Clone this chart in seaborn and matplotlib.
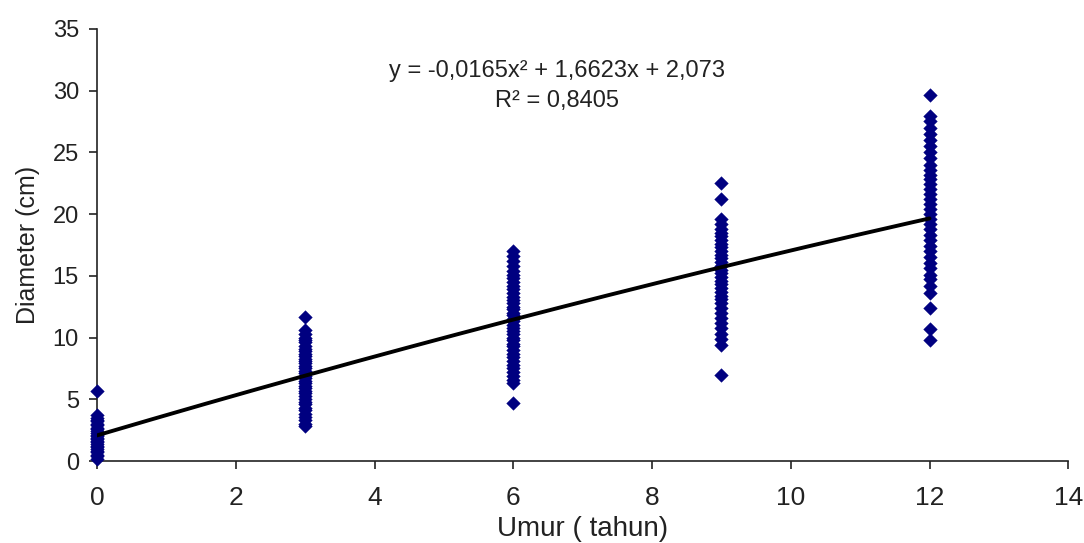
import numpy as np
import pandas as pd
import matplotlib
matplotlib.use("Agg")
import matplotlib.pyplot as plt
import seaborn as sns

# ---- data ----
age_0 = [0.2, 0.4, 0.5, 0.7, 0.8, 1.0, 1.1, 1.2, 1.4, 1.5, 1.6, 1.8, 1.9, 2.0,
         2.1, 2.3, 2.4, 2.6, 2.7, 2.9, 3.0, 3.2, 3.3, 3.5, 3.7, 5.7]
age_3 = [2.8, 3.0, 3.3, 3.6, 3.8, 4.1, 4.3, 4.6, 4.8, 5.0, 5.3, 5.5, 5.7, 5.9,
         6.1, 6.3, 6.5, 6.7, 6.9, 7.1, 7.3, 7.5, 7.7, 7.9, 8.1, 8.3, 8.5, 8.7,
         8.9, 9.1, 9.3, 9.6, 9.8, 10.0, 10.3, 10.6, 11.7]
age_6 = [4.7, 6.3, 6.6, 6.9, 7.2, 7.5, 7.8, 8.1, 8.4, 8.7, 9.0, 9.3, 9.5, 9.8,
         10.0, 10.3, 10.5, 10.8, 11.0, 11.3, 11.5, 11.8, 12.0, 12.3, 12.5,
         12.8, 13.0, 13.3, 13.6, 13.9, 14.2, 14.5, 14.8, 15.1, 15.4, 15.8,
         16.2, 16.6, 17.0]
age_9 = [7.0, 9.4, 9.9, 10.3, 10.8, 11.2, 11.6, 12.0, 12.4, 12.8, 13.1, 13.4,
         13.7, 14.0, 14.3, 14.6, 14.9, 15.2, 15.5, 15.8, 16.1, 16.4, 16.7,
         17.0, 17.3, 17.6, 17.9, 18.2, 18.5, 18.8, 19.2, 19.6, 21.2, 22.5]
age_12 = [9.8, 10.7, 12.4, 13.6, 14.2, 14.7, 15.1, 15.6, 16.0, 16.5, 17.0,
          17.4, 17.9, 18.3, 18.8, 19.2, 19.6, 20.0, 20.4, 20.8, 21.2, 21.6,
          22.0, 22.4, 22.8, 23.2, 23.6, 24.0, 24.5, 25.0, 25.5, 26.0, 26.5,
          27.0, 27.5, 27.9, 29.6]
ages = [0, 3, 6, 9, 12]
groups = [age_0, age_3, age_6, age_9, age_12]

# polynomial trendline coefficients (as printed on the chart)
trend_coef = [-0.0165, 1.6623, 2.073]
trend_x_range = [0, 12]
equation_text = "y = -0,0165x² + 1,6623x + 2,073"
r2_text = "R² = 0,8405"

x_ticks = [0, 2, 4, 6, 8, 10, 12, 14]
y_ticks = [0, 5, 10, 15, 20, 25, 30, 35]

# ---- build table ----
df = pd.DataFrame({
    "Umur": np.concatenate([[a] * len(g) for a, g in zip(ages, groups)]),
    "Diameter": np.concatenate(groups),
})
tx = np.linspace(trend_x_range[0], trend_x_range[1], 200)
trend = pd.DataFrame({"Umur": tx, "Diameter": np.polyval(trend_coef, tx)})

sns.set_theme(style="white")
plt.rcParams["font.family"] = ["Liberation Sans", "DejaVu Sans"]

fig = plt.figure(figsize=(10.84, 5.43), dpi=100)
ax = fig.add_axes([0.0895, 0.151, 0.896, 0.796])

sns.scatterplot(data=df, x="Umur", y="Diameter", ax=ax, marker="D",
                color="#000080", s=48, edgecolor="#000080", linewidth=0.3,
                clip_on=False, zorder=3)
sns.lineplot(data=trend, x="Umur", y="Diameter", ax=ax, color="black",
             linewidth=2.8, zorder=4)

ax.set_xlim(0, 14)
ax.set_ylim(0, 35)
ax.set_xticks(x_ticks)
ax.set_yticks(y_ticks)
ax.tick_params(axis="both", direction="out", length=6, width=1.2,
               colors="#222222", bottom=True, left=True)
ax.tick_params(axis="y", labelsize=17, pad=7)
ax.tick_params(axis="x", labelsize=19, pad=12)
for s in ["top", "right"]:
    ax.spines[s].set_visible(False)
for s in ["left", "bottom"]:
    ax.spines[s].set_color("#222222")
    ax.spines[s].set_linewidth(1.2)

ax.set_xlabel("Umur ( tahun)", fontsize=20, color="#222222", labelpad=4)
ax.set_ylabel("Diameter (cm)", fontsize=18, color="#222222", labelpad=9)

fig.text(0.514, 0.870, equation_text, ha="center", va="center",
         fontsize=17, color="#222222")
fig.text(0.514, 0.814, r2_text, ha="center", va="center",
         fontsize=17, color="#222222")

fig.savefig("out.png", dpi=100, facecolor="white")
